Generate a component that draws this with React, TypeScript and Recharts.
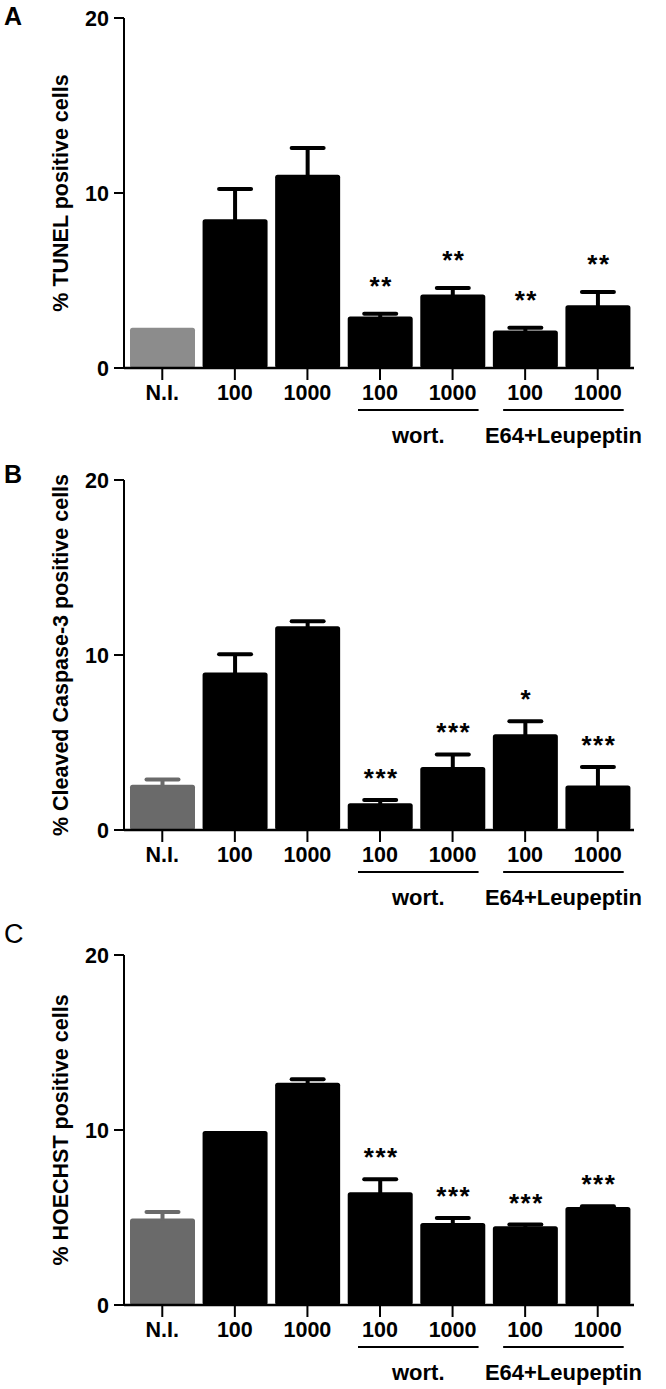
import { BarChart, Bar, XAxis, YAxis, Label } from "recharts";

// x categories (concentration) and the bracket groups under them
const categories = ["N.I.", "100", "1000", "100", "1000", "100", "1000"];
const groupLabels = ["", "", "", "wort.", "", "E64+Leupeptin", ""];
const yTicks = [0, 10, 20];

// A: TUNEL
const tunelMean = [2.3, 8.5, 11.05, 2.95, 4.2, 2.15, 3.58];
const tunelErr = [0, 1.73, 1.52, 0.15, 0.37, 0.15, 0.76];
const tunelSig = ["", "", "", "**", "**", "**", "**"];

// B: cleaved caspase-3
const caspMean = [2.58, 9.0, 11.65, 1.53, 3.6, 5.47, 2.54];
const caspErr = [0.31, 1.05, 0.28, 0.19, 0.72, 0.75, 1.06];
const caspSig = ["", "", "", "***", "***", "*", "***"];

// C: HOECHST
const hoeMean = [4.95, 9.95, 12.7, 6.45, 4.68, 4.5, 5.6];
const hoeErr = [0.37, 0, 0.2, 0.74, 0.29, 0.1, 0.05];
const hoeSig = ["", "", "", "***", "***", "***", "***"];

const FONT = "'Liberation Sans', Arial, Helvetica, sans-serif";
const W = 666;
const H = 448;
const PLOT_LEFT = 124;
const MARGIN_RIGHT = 32;
const PAD_LEFT = 2;
const BAND = (W - PLOT_LEFT - MARGIN_RIGHT - PAD_LEFT) / categories.length;

function CategoryTick(props: any) {
  const { x, y, payload, index } = props;
  const group = groupLabels[index];
  return (
    <g>
      <text
        x={x}
        y={y + 18}
        textAnchor="middle"
        fontFamily={FONT}
        fontWeight="bold"
        fontSize={21.5}
        fill="#000"
      >
        {payload.value}
      </text>
      {group ? (
        <g>
          <line x1={x - 22} x2={x + BAND + 26} y1={y + 28} y2={y + 28} stroke="#000" strokeWidth={2} />
          <text
            x={x + BAND / 2 + 2}
            y={y + 61}
            textAnchor="middle"
            fontFamily={FONT}
            fontWeight="bold"
            fontSize={22}
            fill="#000"
          >
            {group}
          </text>
        </g>
      ) : null}
    </g>
  );
}

function makeBarShape(mean: number[], err: number[], sig: string[], niColor: string, sigGap: number) {
  return (props: any) => {
    const { x, y, width, height, index } = props;
    const perUnit = height / mean[index];
    const color = index === 0 ? niColor : "#000";
    const cx = x + width / 2;
    const top = y - err[index] * perUnit;
    return (
      <g>
        <rect x={x} y={y} width={width} height={height} rx={2.5} fill={color} />
        {err[index] > 0 ? (
          <g>
            <line x1={cx} x2={cx} y1={y + 2} y2={top} stroke={color} strokeWidth={4} />
            <line x1={cx - 16} x2={cx + 16} y1={top} y2={top} stroke={color} strokeWidth={4} strokeLinecap="round" />
          </g>
        ) : null}
        {sig[index] ? (
          <text
            x={cx + 1}
            y={top - sigGap}
            textAnchor="middle"
            fontFamily={FONT}
            fontWeight="bold"
            fontSize={26}
            letterSpacing={1.5}
            fill="#000"
          >
            {sig[index]}
          </text>
        ) : null}
      </g>
    );
  };
}

type PanelProps = {
  top: number;
  mean: number[];
  err: number[];
  sig: string[];
  niColor: string;
  sigGap: number;
  yLabel: string;
};

function Panel({ top, mean, err, sig, niColor, sigGap, yLabel }: PanelProps) {
  const rows = categories.map((c, i) => ({ cat: c, mean: mean[i] }));
  return (
    <div style={{ position: "absolute", left: 0, top }}>
      <BarChart
        width={W}
        height={H}
        data={rows}
        margin={{ top: 18, right: MARGIN_RIGHT, left: 0, bottom: 0 }}
      >
        <XAxis
          dataKey="cat"
          height={80}
          interval={0}
          padding={{ left: PAD_LEFT, right: 0 }}
          tickSize={12}
          tickMargin={2}
          axisLine={{ stroke: "#000", strokeWidth: 2.5 }}
          tickLine={{ stroke: "#000", strokeWidth: 2 }}
          tick={<CategoryTick />}
        />
        <YAxis
          type="number"
          width={PLOT_LEFT}
          domain={[0, 20]}
          ticks={yTicks}
          tickSize={10}
          tickMargin={5}
          axisLine={{ stroke: "#000", strokeWidth: 2 }}
          tickLine={{ stroke: "#000", strokeWidth: 2 }}
          tick={{ fontFamily: FONT, fontWeight: "bold", fontSize: 21.5, fill: "#000" }}
        >
          <Label
            value={yLabel}
            angle={-90}
            position="center"
            dx={-2}
            style={{ fontFamily: FONT, fontWeight: "bold", fontSize: 21.5, fill: "#000" }}
          />
        </YAxis>
        <Bar
          dataKey="mean"
          barSize={65}
          isAnimationActive={false}
          shape={makeBarShape(mean, err, sig, niColor, sigGap)}
        />
      </BarChart>
    </div>
  );
}

export default function App() {
  return (
    <div style={{ position: "absolute", left: 0, top: 0, width: W, height: 1389, background: "#fff" }}>
      <Panel top={0} mean={tunelMean} err={tunelErr} sig={tunelSig} niColor="#8c8c8c" sigGap={19} yLabel="% TUNEL positive cells" />
      <Panel top={462} mean={caspMean} err={caspErr} sig={caspSig} niColor="#6a6a6a" sigGap={13} yLabel="% Cleaved Caspase-3 positive cells" />
      <Panel top={937} mean={hoeMean} err={hoeErr} sig={hoeSig} niColor="#6a6a6a" sigGap={13} yLabel="% HOECHST positive cells" />
      <svg width={W} height={1389} style={{ position: "absolute", left: 0, top: 0, pointerEvents: "none" }}>
        <text x={4} y={25} fontFamily={FONT} fontWeight="bold" fontSize={25} fill="#000">A</text>
        <text x={4} y={483} fontFamily={FONT} fontWeight="bold" fontSize={25} fill="#000">B</text>
        <text x={4} y={943} fontFamily={FONT} fontSize={27} fill="#000">C</text>
      </svg>
    </div>
  );
}
